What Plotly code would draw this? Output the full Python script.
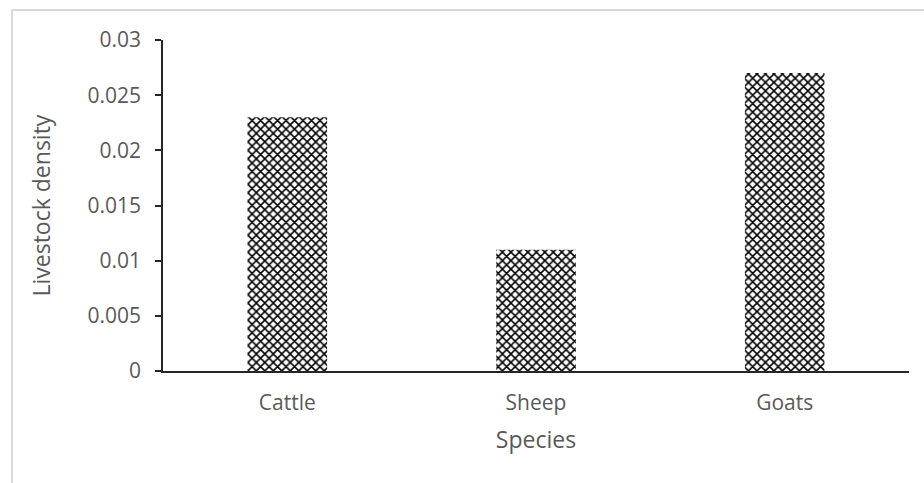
import plotly.graph_objects as go

species = ["Cattle", "Sheep", "Goats"]
density = [0.023, 0.011, 0.027]
y_ticks = [0, 0.005, 0.01, 0.015, 0.02, 0.025, 0.03]
y_tick_text = ["0", "0.005", "0.01", "0.015", "0.02", "0.025", "0.03"]

W, H = 924, 483
L, R, T, B = 163, 15, 40, 112
pw, ph = W - L - R, H - T - B

font_family = "Open Sans, Liberation Sans, sans-serif"
grey = "#595959"

fig = go.Figure(
    go.Bar(
        x=species,
        y=density,
        width=0.32,
        marker=dict(
            color="white",
            line=dict(width=0),
            pattern=dict(shape="x", fgcolor="black", bgcolor="white",
                         size=6, solidity=0.45, fillmode="replace"),
        ),
    )
)

# chart frame: light grey left and top edges
fx0 = (12 - L) / pw
fy1 = 1 + (T - 10) / ph
fig.add_shape(type="line", xref="paper", yref="paper",
              x0=fx0, x1=(W + 10 - L) / pw, y0=fy1, y1=fy1,
              line=dict(color="#d9d9d9", width=2))
fig.add_shape(type="line", xref="paper", yref="paper",
              x0=fx0, x1=fx0, y0=fy1, y1=-(B + 10) / ph,
              line=dict(color="#d9d9d9", width=2))

# vertical axis title
fig.add_annotation(
    text="Livestock density", textangle=-90, showarrow=False,
    xref="paper", yref="paper", x=(40 - L) / pw, y=0.5,
    xanchor="center", yanchor="middle",
    font=dict(size=23, color=grey),
)

fig.update_layout(
    width=W, height=H,
    margin=dict(l=L, r=R, t=T, b=B, pad=0),
    plot_bgcolor="white", paper_bgcolor="white",
    showlegend=False,
    font=dict(family=font_family, size=21, color=grey),
)
fig.update_xaxes(
    showline=True, linecolor="#262626", linewidth=1.5,
    ticks="", showgrid=False, ticklabelstandoff=12,
    title=dict(text="Species", font=dict(size=23, color=grey), standoff=17),
)
fig.update_yaxes(
    range=[0, 0.03], tickvals=y_ticks, ticktext=y_tick_text,
    showline=True, linecolor="#262626", linewidth=1.5,
    ticks="outside", ticklen=6, tickcolor="#262626", tickwidth=1.5,
    showgrid=False, zeroline=False, ticklabelstandoff=10,
)

fig.write_html("out.html")
